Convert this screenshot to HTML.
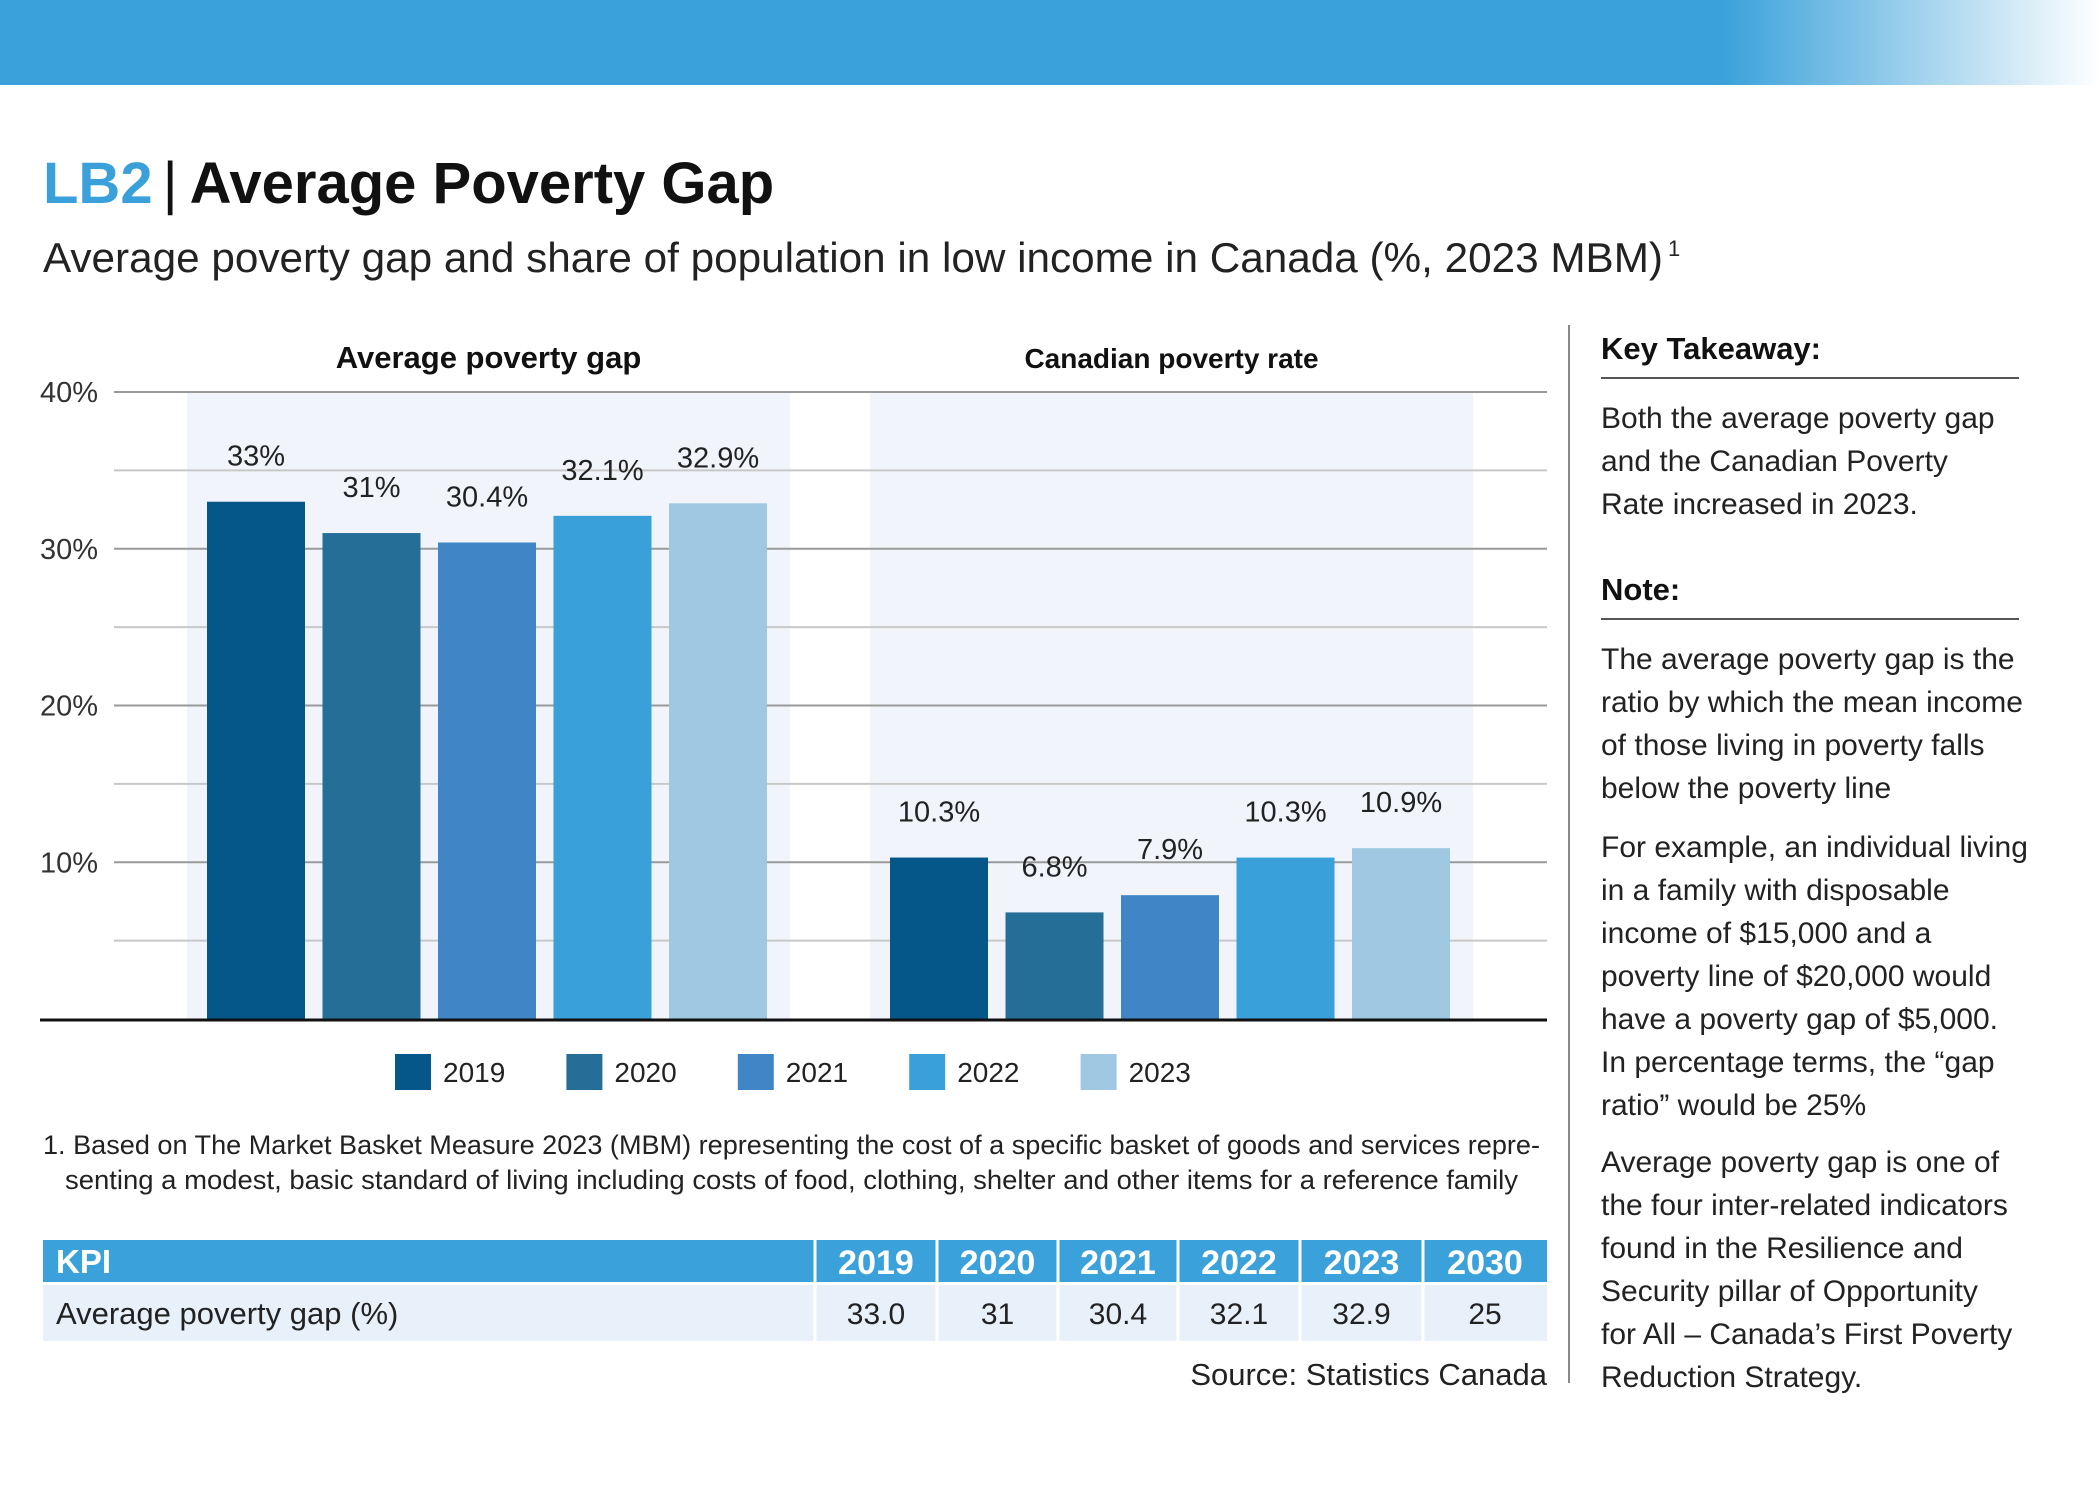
<!DOCTYPE html>
<html><head><meta charset="utf-8"><style>
html,body{margin:0;padding:0;background:#fff;}
svg{display:block;font-family:"Liberation Sans",sans-serif;}
</style></head><body>
<svg id="chart" width="2100" height="1500" viewBox="0 0 2100 1500" xmlns="http://www.w3.org/2000/svg">
<defs><linearGradient id="bg" x1="0" x2="1" y1="0" y2="0">
<stop offset="0" stop-color="#3aa1da"/><stop offset="0.82" stop-color="#3aa1da"/><stop offset="1" stop-color="#ffffff"/></linearGradient></defs>
<rect x="0" y="0" width="2100" height="85" fill="url(#bg)"/>
<text x="43" y="203" font-size="58" font-weight="bold"><tspan fill="#3aa0d9">LB2</tspan><tspan fill="#111" font-weight="normal" dx="10">|</tspan><tspan fill="#111" dx="12">Average Poverty Gap</tspan></text>
<text x="43" y="272" font-size="42" fill="#222" textLength="1620" lengthAdjust="spacingAndGlyphs">Average poverty gap and share of population in low income in Canada (%, 2023 MBM)</text>
<text x="1668" y="256" font-size="22" fill="#222">1</text>
<g id="plot"></g>
<line x1="1569" y1="325" x2="1569" y2="1383" stroke="#888" stroke-width="2"/>
<g font-size="30" fill="#222">
<text x="1601" y="359" font-size="31" font-weight="bold" fill="#111">Key Takeaway:</text>
<line x1="1601" y1="378" x2="2019" y2="378" stroke="#555" stroke-width="2"/>
<text x="1601" y="428"><tspan x="1601">Both the average poverty gap</tspan><tspan x="1601" dy="43">and the Canadian Poverty</tspan><tspan x="1601" dy="43">Rate increased in 2023.</tspan></text>
<text x="1601" y="600" font-size="31" font-weight="bold" fill="#111">Note:</text>
<line x1="1601" y1="619" x2="2019" y2="619" stroke="#555" stroke-width="2"/>
<text y="669"><tspan x="1601">The average poverty gap is the</tspan><tspan x="1601" dy="43">ratio by which the mean income</tspan><tspan x="1601" dy="43">of those living in poverty falls</tspan><tspan x="1601" dy="43">below the poverty line</tspan></text>
<text y="857"><tspan x="1601">For example, an individual living</tspan><tspan x="1601" dy="43">in a family with disposable</tspan><tspan x="1601" dy="43">income of $15,000 and a</tspan><tspan x="1601" dy="43">poverty line of $20,000 would</tspan><tspan x="1601" dy="43">have a poverty gap of $5,000.</tspan><tspan x="1601" dy="43">In percentage terms, the “gap</tspan><tspan x="1601" dy="43">ratio” would be 25%</tspan></text>
<text y="1172"><tspan x="1601">Average poverty gap is one of</tspan><tspan x="1601" dy="43">the four inter-related indicators</tspan><tspan x="1601" dy="43">found in the Resilience and</tspan><tspan x="1601" dy="43">Security pillar of Opportunity</tspan><tspan x="1601" dy="43">for All – Canada’s First Poverty</tspan><tspan x="1601" dy="43">Reduction Strategy.</tspan></text>
</g>
<g font-size="27" fill="#222">
<text x="43" y="1154" textLength="1497" lengthAdjust="spacingAndGlyphs">1. Based on The Market Basket Measure 2023 (MBM) representing the cost of a specific basket of goods and services repre-</text>
<text x="65" y="1189" textLength="1453" lengthAdjust="spacingAndGlyphs">senting a modest, basic standard of living including costs of food, clothing, shelter and other items for a reference family</text>
</g>
<g id="table"></g>
<text x="1547" y="1385" font-size="31" fill="#222" text-anchor="end">Source: Statistics Canada</text>
</svg>
<script>
const years = ["2019","2020","2021","2022","2023"];
const gapValues = [33, 31, 30.4, 32.1, 32.9];
const gapLabels = ["33%","31%","30.4%","32.1%","32.9%"];
const rateValues = [10.3, 6.8, 7.9, 10.3, 10.9];
const rateLabels = ["10.3%","6.8%","7.9%","10.3%","10.9%"];
const yTicks = [10, 20, 30, 40];
const yTickLabels = ["10%","20%","30%","40%"];
const tableYears = ["2019","2020","2021","2022","2023","2030"];
const tableValues = ["33.0","31","30.4","32.1","32.9","25"];

const NS = "http://www.w3.org/2000/svg";
const colors = ["#05578a","#246e97","#4086c6","#3aa0d9","#9fc9e2"];
const y0 = 1019, yTop = 392, yMax = 40;
function yScale(v){ return y0 - (v / yMax) * (y0 - yTop); }
function mk(tag, attrs, parent){ const e = document.createElementNS(NS, tag); for (const k in attrs) e.setAttribute(k, attrs[k]); parent.appendChild(e); return e; }
const plot = document.getElementById("plot");

const panels = [
  {x:187, w:603, vals:gapValues, labs:gapLabels, title:"Average poverty gap", fs:31, name:"gap"},
  {x:870, w:603, vals:rateValues, labs:rateLabels, title:"Canadian poverty rate", fs:28, name:"rate"}
];
panels.forEach(p => {
  const r = mk("rect", {x:p.x, y:yTop, width:p.w, height:y0-yTop, fill:"#f1f5fb"}, plot);
  
  
});
for (let v = 5; v <= 40; v += 5) {
  const l = mk("line", {x1:114, x2:1547, y1:yScale(v), y2:yScale(v), stroke: v % 10 === 0 ? "#999" : "#c8c8c8", "stroke-width": 2}, plot);
  
  
}
yTicks.forEach((v, i) => {
  const t = mk("text", {x:40, y:yScale(v)+10, "font-size":29, fill:"#333"}, plot);
  t.textContent = yTickLabels[i];
  
  
});
const barW = 98, step = 115.5, off = 20;
panels.forEach((p, pi) => {
  const tt = mk("text", {x:p.x + p.w/2 - (pi===0?0:0), y:yTop-24, "font-size":p.fs, "font-weight":"bold", fill:"#111", "text-anchor":"middle"}, plot);
  tt.textContent = p.title;
  
  
  p.vals.forEach((v, i) => {
    const x = p.x + off + i * step;
    const b = mk("rect", {x:x, y:yScale(v), width:barW, height:y0 - yScale(v), fill:colors[i]}, plot);
    
    
    const t = mk("text", {x:x + barW/2, y:yScale(v) - 36, "font-size":29, fill:"#222", "text-anchor":"middle"}, plot);
    t.textContent = p.labs[i];
    
    
  });
});
const base = mk("line", {x1:40, x2:1547, y1:y0+1, y2:y0+1, stroke:"#111", "stroke-width":3}, plot);


years.forEach((yr, i) => {
  const x = 395 + i * 171.4;
  const s = mk("rect", {x:x, y:1054, width:36, height:36, fill:colors[i]}, plot);
  
  
  const t = mk("text", {x:x + 48, y:1082, "font-size":28, fill:"#222"}, plot);
  t.textContent = yr;
  
  
});

const table = document.getElementById("table");
const cols = [43, 815, 937, 1058, 1178, 1300, 1423, 1547];
const hdr = mk("rect", {x:43, y:1240, width:1504, height:42, fill:"#3aa1da"}, table);


const row = mk("rect", {x:43, y:1285, width:1504, height:56, fill:"#e8f1fa"}, table);


for (let i = 1; i < cols.length - 1; i++) {
  const l = mk("line", {x1:cols[i], x2:cols[i], y1:1240, y2:1341, stroke:"#fff", "stroke-width":3}, table);
  
  
}
const sep = mk("line", {x1:43, x2:1547, y1:1283.5, y2:1283.5, stroke:"#fff", "stroke-width":3}, table);


const kpi = mk("text", {x:56, y:1273, "font-size":33, "font-weight":"bold", fill:"#fff"}, table);
kpi.textContent = "KPI";


const rl = mk("text", {x:56, y:1324, "font-size":31, fill:"#222"}, table);
rl.textContent = "Average poverty gap (%)";


tableYears.forEach((yr, i) => {
  const cx = (cols[i+1] + cols[i+2]) / 2;
  const h = mk("text", {x:cx, y:1274, "font-size":34, "font-weight":"bold", fill:"#fff", "text-anchor":"middle"}, table);
  h.textContent = yr;
  
  
  const c = mk("text", {x:cx, y:1324, "font-size":30, fill:"#222", "text-anchor":"middle"}, table);
  c.textContent = tableValues[i];
  
  
});
</script>
</body></html>
